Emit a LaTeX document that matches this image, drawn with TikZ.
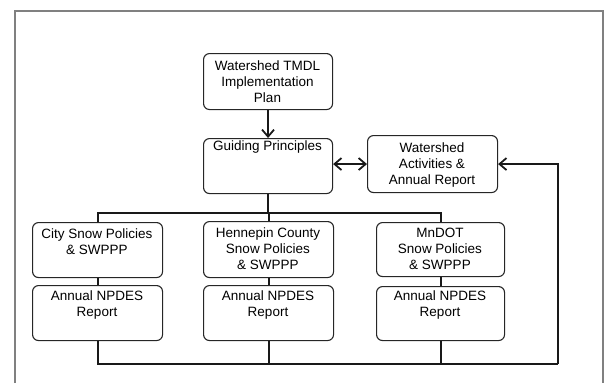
\documentclass[tikz,border=0pt]{standalone}
\usepackage{fontspec}
\setmainfont{Liberation Sans}
\usetikzlibrary{arrows.meta}
\begin{document}
\begin{tikzpicture}[x=1pt,y=-1pt,
  box/.style={draw=black!85, line width=1.1pt, rounded corners=6pt, inner sep=0pt, anchor=north west},
  lbl/.style={align=center, inner sep=0pt, font=\fontsize{13.5}{16}\selectfont, text=black},
  conn/.style={line width=2pt, black!90},
  barb/.tip={Straight Barb[length=7pt,width=12pt,line width=1.8pt]},
  tip/.style={-barb},
  frame/.style={draw=black!50, line width=1.2pt}]
\useasboundingbox (0,0) rectangle (607,383);
% outer frame (open at bottom)
\coordinate (f1) at (15,383);
\coordinate (f2) at (15,11);
\coordinate (f3) at (603,11);
\coordinate (f4) at (603,383);
\draw[frame] (f1) -- (f2) -- (f3) -- (f4);
% boxes
\node[box, minimum width=129pt, minimum height=56pt] (tmdl) at (203,53) {};
\node[box, minimum width=129pt, minimum height=55pt] (guid) at (203,138) {};
\node[box, minimum width=130pt, minimum height=57pt] (act) at (367,135) {};
\node[box, minimum width=130pt, minimum height=55pt] (city) at (32,222) {};
\node[box, minimum width=130pt, minimum height=56pt] (henn) at (203,221) {};
\node[box, minimum width=128pt, minimum height=54pt] (mndot) at (376,222) {};
\node[box, minimum width=130pt, minimum height=55pt] (np1) at (32,285) {};
\node[box, minimum width=130pt, minimum height=55pt] (np2) at (203,285) {};
\node[box, minimum width=128pt, minimum height=54pt] (np3) at (376,286) {};
% labels
\node[lbl] (tmdlT) at (267.5,82) {Watershed TMDL\\Implementation\\Plan};
\node[lbl] (guidT) at (267.5,147.5) {Guiding Principles};
\node[lbl] (actT) at (432,165) {Watershed\\Activities \&\\Annual Report};
\node[lbl] (cityT) at (97,241.5) {City Snow Policies\\\& SWPPP};
\node[lbl] (hennT) at (268,248.5) {Hennepin County\\Snow Policies\\\& SWPPP};
\node[lbl] (mndotT) at (440,248.5) {MnDOT\\Snow Policies\\\& SWPPP};
\node[lbl] (np1T) at (97,305.5) {Annual NPDES\\Report};
\node[lbl] (np2T) at (268,305.5) {Annual NPDES\\Report};
\node[lbl] (np3T) at (440,305.5) {Annual NPDES\\Report};
% bus coordinates
\coordinate (busT) at (0,213);
\coordinate (busB) at (0,364);
\coordinate (fb) at (558,0);
% connectors
\draw[conn, tip] (tmdl.south) -- (guid.north);
\draw[conn, barb-barb] (guid.east |- act.west) -- (act.west);
\draw[conn] (guid.south) -- (guid.south |- busT);
\draw[conn] (city.north) -- (city.north |- busT) -- (mndot.north |- busT) -- (mndot.north);
\draw[conn] (henn.north) -- (henn.north |- busT);
\draw[conn] (city.south) -- (np1.north);
\draw[conn] (henn.south) -- (np2.north);
\draw[conn] (mndot.south) -- (np3.north);
\draw[conn] (np1.south) -- (np1.south |- busB) -- (fb |- busB);
\draw[conn] (np2.south) -- (np2.south |- busB);
\draw[conn] (np3.south) -- (np3.south |- busB);
\draw[conn, tip] (fb |- busB) -- (fb |- act.east) -- (act.east);
\end{tikzpicture}
\end{document}
